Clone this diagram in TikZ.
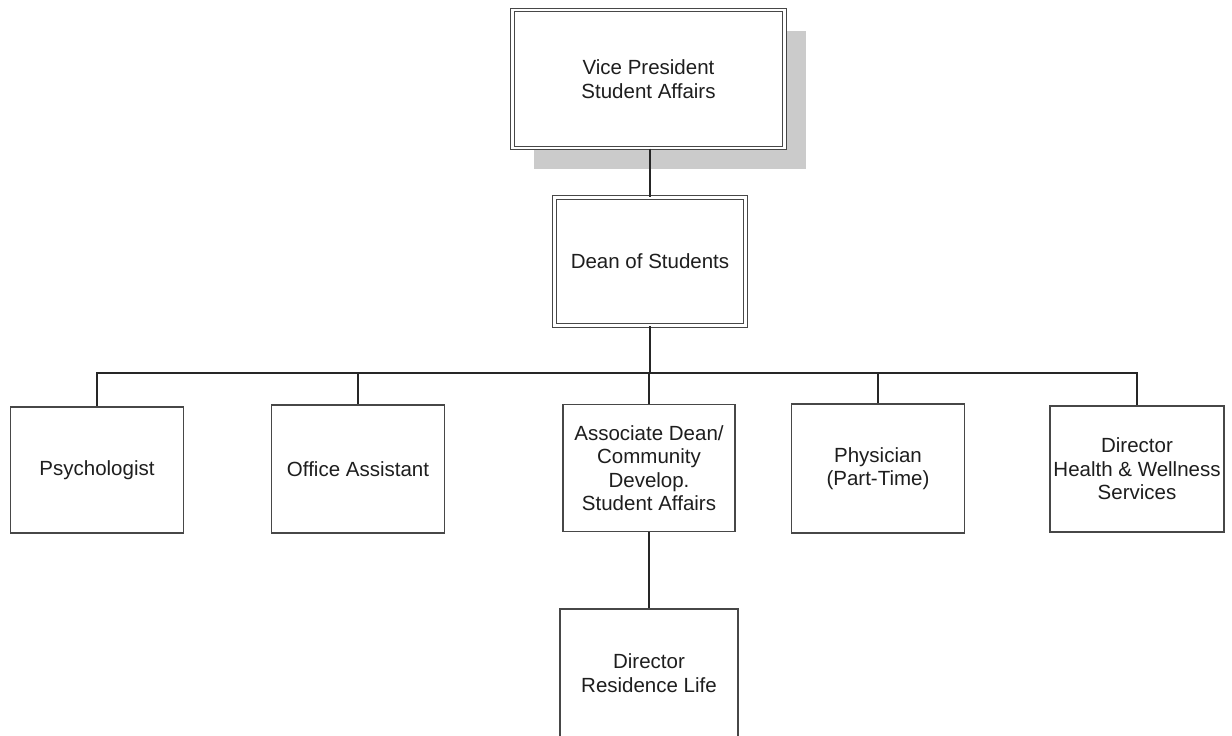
\documentclass[tikz,border=0pt]{standalone}
\usepackage{fontspec}
\setmainfont{Liberation Sans}
\usetikzlibrary{shadows}
\definecolor{boxline}{HTML}{474747}
\definecolor{txt}{HTML}{1E1E1E}
\definecolor{shade}{HTML}{CBCBCB}
\tikzset{
  base/.style={rectangle, fill=white, align=center, text=txt, inner sep=2pt,
    font=\fontsize{20.5}{23.5}\selectfont},
  single/.style={base, draw=boxline, line width=1.8pt},
  dbl/.style={base, draw=boxline, double=white, double distance=2.4pt, line width=1.2pt},
  conn/.style={draw=black!85, line width=1.8pt},
}
\begin{document}
\begin{tikzpicture}[x=1pt,y=-1pt]
\useasboundingbox (0,0) rectangle (1232,736);
\clip (0,0) rectangle (1232,736);
\fill[white] (0,0) rectangle (1232,736);
\node[dbl, minimum width=272pt, minimum height=138pt,
  drop shadow={shadow xshift=21pt, shadow yshift=-21pt, fill=shade, opacity=1}]
  (vp) at (648.5,79) {Vice President\\Student Affairs};
\node[dbl, minimum width=191pt, minimum height=128pt] (dean) at (650,261.5) {Dean of Students};
\node[single, minimum width=173pt, minimum height=126pt] (psych) at (97,470) {Psychologist};
\node[single, minimum width=173pt, minimum height=128pt] (office) at (358,469) {Office Assistant};
\node[single, minimum width=172pt, minimum height=127pt] (assoc) at (649,468) {Associate Dean/\\Community\\Develop.\\Student Affairs};
\node[single, minimum width=173pt, minimum height=129pt] (phys) at (878,468.5) {Physician\\(Part-Time)};
\node[single, minimum width=174pt, minimum height=126pt] (health) at (1137,469) {Director\\Health \& Wellness\\Services};
\node[single, minimum width=178pt, minimum height=128pt] (resid) at (649,673) {Director\\Residence Life};
\coordinate (bus) at (650,373);
\draw[conn] (dean.north |- vp.south) -- (dean.north);
\draw[conn] (dean.south) -- (bus);
\draw[conn] (bus) -| (psych.north);
\draw[conn] (bus) -| (office.north);
\draw[conn] (bus) -| (assoc.north);
\draw[conn] (bus) -| (phys.north);
\draw[conn] (bus) -| (health.north);
\draw[conn] (assoc.south) -- (resid.north);
\end{tikzpicture}
\end{document}
